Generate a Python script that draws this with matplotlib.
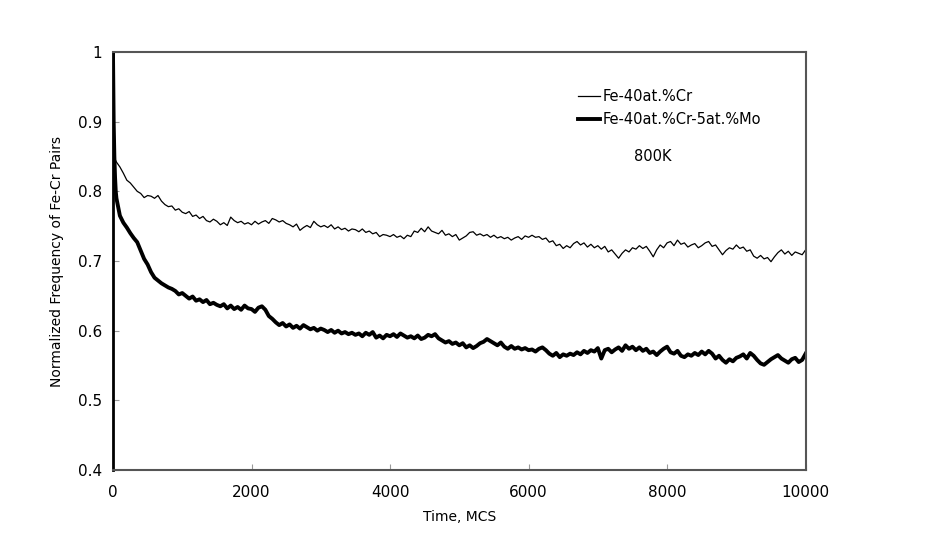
import numpy as np
import matplotlib
matplotlib.use('Agg')
import matplotlib.pyplot as plt

matplotlib.rcParams['font.family'] = ['DejaVu Sans']
matplotlib.rcParams['xtick.direction'] = 'in'
matplotlib.rcParams['ytick.direction'] = 'in'

# time grid (MCS): a few early points, then every 50 MCS
t_early = [0, 10, 20, 30, 40]
t_main = list(range(50, 10001, 50))
time = t_early + t_main

# Fe-40at.%Cr (thin line)
cr_early = [1.0, 0.900, 0.855, 0.846, 0.844]
cr_main = [
    0.842, 0.835, 0.826, 0.816, 0.812, 0.806, 0.800, 0.797, 0.791, 0.794,
    0.793, 0.790, 0.794, 0.786, 0.781, 0.778, 0.779, 0.773, 0.775, 0.770,
    0.768, 0.771, 0.764, 0.766, 0.761, 0.764, 0.758, 0.756, 0.760, 0.757,
    0.752, 0.755, 0.751, 0.763, 0.758, 0.755, 0.757, 0.753, 0.755, 0.752,
    0.757, 0.753, 0.756, 0.758, 0.754, 0.761, 0.759, 0.756, 0.758, 0.754,
    0.752, 0.749, 0.753, 0.744, 0.748, 0.751, 0.748, 0.757, 0.752, 0.749,
    0.751, 0.748, 0.752, 0.746, 0.749, 0.745, 0.747, 0.743, 0.746, 0.745,
    0.742, 0.746, 0.741, 0.743, 0.739, 0.741, 0.735, 0.738, 0.737, 0.735,
    0.738, 0.734, 0.736, 0.732, 0.737, 0.735, 0.743, 0.741, 0.747, 0.742,
    0.749, 0.743, 0.741, 0.739, 0.744, 0.737, 0.739, 0.735, 0.738, 0.730,
    0.733, 0.736, 0.741, 0.742, 0.737, 0.739, 0.736, 0.738, 0.734, 0.737,
    0.733, 0.735, 0.732, 0.734, 0.730, 0.733, 0.735, 0.731, 0.736, 0.734,
    0.737, 0.734, 0.735, 0.731, 0.733, 0.727, 0.729, 0.722, 0.724, 0.718,
    0.722, 0.719, 0.725, 0.728, 0.723, 0.726, 0.720, 0.724, 0.719, 0.722,
    0.717, 0.721, 0.713, 0.716, 0.710, 0.704, 0.711, 0.716, 0.713, 0.719,
    0.717, 0.722, 0.718, 0.721, 0.714, 0.706, 0.716, 0.723, 0.719, 0.726,
    0.728, 0.722, 0.730, 0.724, 0.726, 0.720, 0.723, 0.725, 0.719, 0.722,
    0.726, 0.728, 0.721, 0.723, 0.716, 0.709, 0.715, 0.719, 0.717, 0.723,
    0.718, 0.720, 0.714, 0.716, 0.707, 0.704, 0.708, 0.703, 0.705, 0.699,
    0.706, 0.712, 0.716, 0.710, 0.714, 0.708, 0.713, 0.711, 0.709, 0.716,
]
fecr = cr_early + cr_main

# Fe-40at.%Cr-5at.%Mo (thick line)
mo_early = [1.0, 0.900, 0.850, 0.820, 0.800]
mo_main = [
    0.790, 0.765, 0.755, 0.748, 0.740, 0.733, 0.727, 0.715, 0.703, 0.695,
    0.684, 0.676, 0.672, 0.668, 0.665, 0.662, 0.660, 0.657, 0.652, 0.654,
    0.650, 0.646, 0.649, 0.643, 0.645, 0.641, 0.644, 0.638, 0.640, 0.637,
    0.635, 0.638, 0.632, 0.636, 0.631, 0.634, 0.630, 0.636, 0.632, 0.631,
    0.627, 0.633, 0.635, 0.630, 0.621, 0.617, 0.612, 0.608, 0.611, 0.606,
    0.609, 0.604, 0.607, 0.603, 0.608, 0.605, 0.602, 0.604, 0.600, 0.603,
    0.601, 0.598, 0.601, 0.597, 0.600, 0.596, 0.598, 0.595, 0.597, 0.594,
    0.596, 0.592, 0.597, 0.594, 0.598, 0.590, 0.593, 0.589, 0.594, 0.592,
    0.595, 0.591, 0.596, 0.593, 0.590, 0.592, 0.589, 0.593, 0.588, 0.590,
    0.594, 0.592, 0.595, 0.589, 0.586, 0.583, 0.585, 0.581, 0.583, 0.579,
    0.582, 0.576, 0.579, 0.575, 0.578, 0.582, 0.584, 0.588, 0.585, 0.582,
    0.579, 0.583, 0.577, 0.574, 0.578, 0.574, 0.576, 0.573, 0.575, 0.572,
    0.573, 0.570, 0.574, 0.576, 0.572, 0.567, 0.564, 0.568, 0.562, 0.566,
    0.564, 0.567, 0.565, 0.569, 0.566, 0.571, 0.568, 0.572, 0.570, 0.575,
    0.560, 0.572, 0.574, 0.569, 0.573, 0.576, 0.571, 0.579, 0.574, 0.577,
    0.572, 0.576, 0.571, 0.574, 0.568, 0.570, 0.565, 0.570, 0.574, 0.577,
    0.569, 0.567, 0.571, 0.564, 0.562, 0.566, 0.564, 0.568, 0.565, 0.570,
    0.566, 0.571, 0.567, 0.560, 0.564, 0.558, 0.554, 0.559, 0.556, 0.561,
    0.563, 0.566, 0.560, 0.568, 0.564, 0.558, 0.553, 0.551, 0.555, 0.559,
    0.562, 0.565, 0.560, 0.557, 0.554, 0.559, 0.561, 0.555, 0.558, 0.567,
]
fecrmo = mo_early + mo_main

xticks = [0, 2000, 4000, 6000, 8000, 10000]
yticks = [0.4, 0.5, 0.6, 0.7, 0.8, 0.9, 1.0]
ytick_labels = ['0.4', '0.5', '0.6', '0.7', '0.8', '0.9', '1']

fig = plt.figure(figsize=(9.26, 5.45), dpi=100)
ax = fig.add_axes([0.122, 0.1376, 0.748, 0.767])

ax.plot(time, fecr, c='k', lw=0.9, label='Fe-40at.%Cr')
ax.plot(time, fecrmo, c='k', lw=2.8, label='Fe-40at.%Cr-5at.%Mo')

ax.set_xlim(0, 10000)
ax.set_ylim(0.4, 1.0)
ax.set_xticks(xticks)
ax.set_yticks(yticks)
ax.set_yticklabels(ytick_labels)
ax.tick_params(axis='both', labelsize=11, length=4, width=0.8, color='#999999')
ax.tick_params(axis='x', pad=11)
ax.tick_params(axis='y', pad=8)

for s in ['top', 'right', 'bottom']:
    ax.spines[s].set_color('#555555')
    ax.spines[s].set_linewidth(1.5)
ax.spines['left'].set_color('k')
ax.spines['left'].set_linewidth(2)

ax.set_xlabel('Time, MCS', fontsize=10, labelpad=7)
ax.set_ylabel('Normalized Frequency of Fe-Cr Pairs', fontsize=10, labelpad=10)

ax.legend(loc='upper left', bbox_to_anchor=(0.671, 0.912), frameon=False,
          fontsize=10.5, handlelength=1.5, handletextpad=0.2,
          borderpad=0, borderaxespad=0, labelspacing=0.55)
ax.text(0.807, 0.749, '800K', transform=ax.transAxes, ha='right', va='center',
        fontsize=10.5)

plt.savefig('out.png', dpi=100)
